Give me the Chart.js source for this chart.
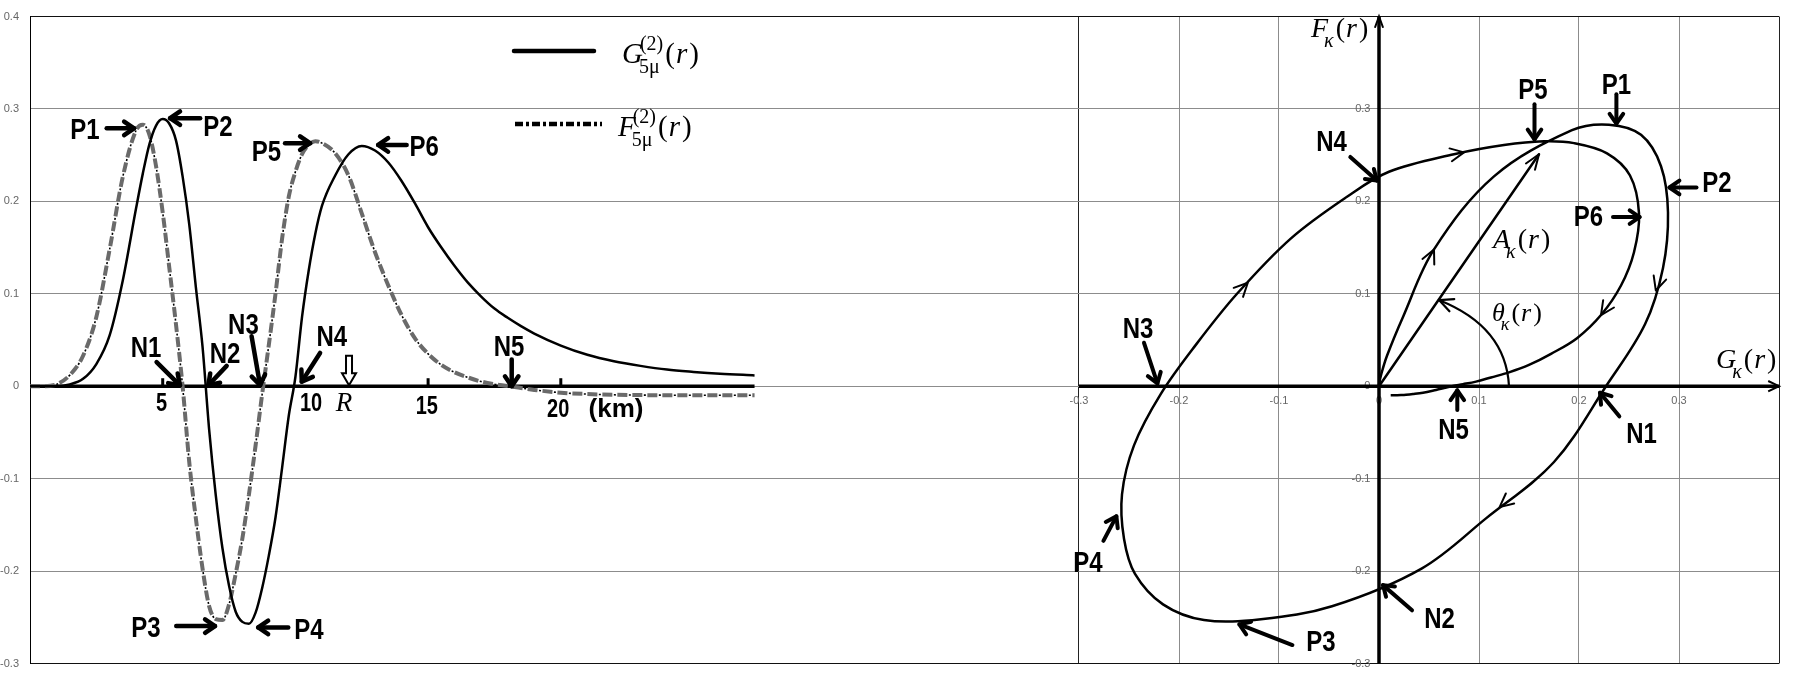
<!DOCTYPE html>
<html>
<head>
<meta charset="utf-8">
<script src="https://cdn.jsdelivr.net/npm/chart.js@4.4.1/dist/chart.umd.min.js"></script>
<style>
  html, body { margin: 0; padding: 0; background: #fff; }
</style>
</head>
<body>
<canvas id="chart" width="1816" height="680"></canvas>
<script>
// radius r (km) and the two components
const rKm = [0, 0.5, 1, 1.5, 2, 2.5, 3, 3.5, 4, 4.25, 4.5, 4.75, 5, 5.25, 5.5, 5.75, 6, 6.25, 6.5, 6.75,
  7, 7.25, 7.5, 7.75, 8, 8.25, 8.5, 8.75, 9, 9.25, 9.5, 9.75, 10, 10.25, 10.5, 10.75, 11, 11.5, 12, 12.5,
  13, 13.5, 14, 14.5, 15, 15.5, 16, 16.5, 17, 17.5, 18, 18.5, 19, 20, 21, 22, 23, 24, 25, 26, 27.3];
const gVals = [0, 0, 0, 0.002, 0.008, 0.024, 0.055, 0.115, 0.193, 0.230, 0.262, 0.282, 0.289, 0.284, 0.266, 0.227, 0.175, 0.107, 0.043, -0.047,
  -0.118, -0.175, -0.216, -0.244, -0.255, -0.257, -0.245, -0.218, -0.183, -0.142, -0.088, -0.032, 0.010, 0.075, 0.125, 0.165, 0.195, 0.228, 0.251, 0.260,
  0.255, 0.242, 0.222, 0.198, 0.172, 0.150, 0.130, 0.112, 0.097, 0.084, 0.074, 0.065, 0.057, 0.044, 0.034, 0.027, 0.022, 0.018, 0.0155, 0.0135, 0.0117];
const fVals = [0, 0, 0.002, 0.012, 0.033, 0.075, 0.148, 0.227, 0.277, 0.283, 0.272, 0.238, 0.188, 0.128, 0.067, 0.000, -0.082, -0.143, -0.197, -0.238,
  -0.252, -0.253, -0.236, -0.203, -0.165, -0.117, -0.064, -0.008, 0.045, 0.100, 0.160, 0.205, 0.232, 0.251, 0.261, 0.265, 0.263, 0.252, 0.228, 0.187,
  0.145, 0.109, 0.077, 0.052, 0.035, 0.023, 0.015, 0.0095, 0.005, 0.0022, 0.0003, -0.002, -0.004, -0.007, -0.0085, -0.0093, -0.0096, -0.0097, -0.0097, -0.0097, -0.0097];

// grid values: shared vertical axis, and the horizontal axis of the G-F plane
const yTicks = [-0.3, -0.2, -0.1, 0, 0.1, 0.2, 0.3, 0.4];
const gTicks = [-0.3, -0.2, -0.1, 0, 0.1, 0.2, 0.3, 0.4];

// hand-lettered km labels on the left panel: text, km, value
const kmLabels = [['5', 4.96, -0.017], ['10', 10.59, -0.017], ['15', 14.95, -0.02], ['20', 19.9, -0.024]];
const kmTickMarks = [5, 15, 20];

// markers: label, label pos, arrow tail, arrow tip (left: km/value, right: G/F)
const leftMarks = [
  ['P1', 2.07, 0.279, 2.89, 0.279, 3.92, 0.279],
  ['P2', 7.08, 0.282, 6.41, 0.290, 5.28, 0.290],
  ['P3', 4.37, -0.260, 5.51, -0.2595, 6.97, -0.2595],
  ['P4', 10.51, -0.2614, 9.73, -0.261, 8.60, -0.261],
  ['P5', 8.91, 0.255, 9.61, 0.263, 10.55, 0.263],
  ['P6', 14.85, 0.261, 14.19, 0.261, 13.12, 0.261],
  ['N1', 4.37, 0.043, 4.77, 0.026, 5.65, 0.001],
  ['N2', 7.35, 0.037, 7.41, 0.022, 6.72, 0.001],
  ['N3', 8.04, 0.068, 8.35, 0.054, 8.67, 0.001],
  ['N4', 11.37, 0.055, 10.93, 0.036, 10.24, 0.005],
  ['N5', 18.05, 0.044, 18.15, 0.029, 18.15, 0.0]
];
const rightMarks = [
  ['P1', 0.2375, 0.328, 0.2374, 0.316, 0.2374, 0.284],
  ['P5', 0.154, 0.322, 0.1555, 0.305, 0.1555, 0.267],
  ['P2', 0.338, 0.222, 0.3175, 0.215, 0.2905, 0.215],
  ['P6', 0.2095, 0.185, 0.234, 0.183, 0.2606, 0.183],
  ['N4', -0.0475, 0.266, -0.0287, 0.248, -0.0022, 0.2225],
  ['N3', -0.241, 0.064, -0.235, 0.047, -0.2216, 0.003],
  ['N5', 0.0745, -0.045, 0.0783, -0.0256, 0.0783, -0.0044],
  ['N1', 0.2625, -0.05, 0.2403, -0.0326, 0.221, -0.0071],
  ['N2', 0.0605, -0.2497, 0.033, -0.2425, 0.004, -0.2152],
  ['P3', -0.058, -0.2752, -0.0866, -0.280, -0.1396, -0.2577],
  ['P4', -0.291, -0.1895, -0.2756, -0.1673, -0.2626, -0.1408]
];
// where the direction arrowheads sit on the G-F curve (in r, km)
const flowAt = [3.0, 5.35, 6.2, 9.3, 10.3, 14.0];
// amplitude vector tip and the angle arc (G, F)
const ampTip = [0.16, 0.251];
const arcPts = [[0.130, 0], [0.127, 0.0644], [0.0603, 0.0931]];

const fmt = v => String(Math.round(v * 10) / 10);
const SERIF = '"Liberation Serif", "DejaVu Serif", serif';
const SANS = '"Liberation Sans", Arial, sans-serif';

function seg(ctx, x1, y1, x2, y2) {
  ctx.beginPath(); ctx.moveTo(x1, y1); ctx.lineTo(x2, y2); ctx.stroke();
}
function head(ctx, x1, y1, x2, y2, len, ang) {
  const a = Math.atan2(y2 - y1, x2 - x1);
  ctx.beginPath();
  ctx.moveTo(x2 - len * Math.cos(a - ang), y2 - len * Math.sin(a - ang));
  ctx.lineTo(x2, y2);
  ctx.lineTo(x2 - len * Math.cos(a + ang), y2 - len * Math.sin(a + ang));
  ctx.stroke();
}
function boldLabel(ctx, t, x, y, size) {
  ctx.save();
  ctx.translate(x, y + size * 0.36);
  ctx.scale(0.8, 1);
  ctx.font = 'bold ' + size + 'px ' + SANS;
  ctx.textAlign = 'center'; ctx.textBaseline = 'alphabetic'; ctx.fillStyle = '#000';
  ctx.fillText(t, 0, 0);
  ctx.restore();
}
function mathText(ctx, x, y, base, sup, sub, size, subItalic) {
  ctx.textAlign = 'left'; ctx.textBaseline = 'alphabetic'; ctx.fillStyle = '#000';
  ctx.font = 'italic ' + size + 'px ' + SERIF;
  ctx.fillText(base, x, y);
  const w = ctx.measureText(base).width;
  const s = Math.round(size * 0.7);
  let ext = 0;
  if (sup) {
    ctx.font = s + 'px ' + SERIF;
    ctx.fillText(sup, x + w - 3, y - size * 0.45);
    ext = Math.max(ext, ctx.measureText(sup).width);
  }
  if (sub) {
    ctx.font = (subItalic ? 'italic ' : '') + s + 'px ' + SERIF;
    ctx.fillText(sub, x + w - 4, y + size * 0.34);
    ext = Math.max(ext, ctx.measureText(sub).width - 1);
  }
  let cx = x + w - 3 + ext + 2;
  ctx.font = size + 'px ' + SERIF;
  ctx.fillText('(', cx, y); cx += ctx.measureText('(').width + 1;
  ctx.font = 'italic ' + size + 'px ' + SERIF;
  ctx.fillText('r', cx, y); cx += ctx.measureText('r').width + 2;
  ctx.font = size + 'px ' + SERIF;
  ctx.fillText(')', cx, y);
}

const annot = {
  id: 'annot',
  beforeDatasetsDraw(chart) {
    const ctx = chart.ctx, X = chart.scales.x, G = chart.scales.x2, Y = chart.scales.y;
    const y0 = Y.getPixelForValue(0);
    ctx.save();
    ctx.strokeStyle = '#000';
    ctx.lineWidth = 3.5;
    // left base line along r
    seg(ctx, X.getPixelForValue(rKm[0]), y0, X.getPixelForValue(rKm[rKm.length - 1]), y0);
    kmTickMarks.forEach(k => { ctx.lineWidth = 3; seg(ctx, X.getPixelForValue(k), y0, X.getPixelForValue(k), y0 - 8); });
    // G-F plane axes
    ctx.lineWidth = 3.5;
    const gx0 = G.getPixelForValue(0);
    const gl = G.getPixelForValue(gTicks[0]), gr = G.getPixelForValue(gTicks[gTicks.length - 1]);
    const yb = Y.getPixelForValue(yTicks[0]), yt = Y.getPixelForValue(yTicks[yTicks.length - 1]);
    seg(ctx, gl, y0, gr, y0);
    seg(ctx, gx0, yb, gx0, yt);
    ctx.lineWidth = 2;
    head(ctx, gr - 20, y0, gr, y0, 12, 0.45);
    head(ctx, gx0, yt + 20, gx0, yt, 12, 0.35);
    ctx.restore();
  },
  afterDatasetsDraw(chart) {
    const ctx = chart.ctx, X = chart.scales.x, G = chart.scales.x2, Y = chart.scales.y;
    ctx.save();
    ctx.strokeStyle = '#000'; ctx.fillStyle = '#000';
    ctx.lineCap = 'round'; ctx.lineJoin = 'round';

    // left panel markers
    leftMarks.forEach(m => {
      const x1 = X.getPixelForValue(m[3]), y1 = Y.getPixelForValue(m[4]);
      const x2 = X.getPixelForValue(m[5]), y2 = Y.getPixelForValue(m[6]);
      ctx.lineWidth = 4.5; seg(ctx, x1, y1, x2, y2); head(ctx, x1, y1, x2, y2, 12, 0.6);
      boldLabel(ctx, m[0], X.getPixelForValue(m[1]), Y.getPixelForValue(m[2]), 30);
    });
    kmLabels.forEach(k => boldLabel(ctx, k[0], X.getPixelForValue(k[1]), Y.getPixelForValue(k[2]), 25));
    ctx.save();
    ctx.font = 'bold 26px ' + SANS; ctx.textAlign = 'center'; ctx.textBaseline = 'middle';
    ctx.fillText('(km)', X.getPixelForValue(22.08), Y.getPixelForValue(-0.0259));
    ctx.restore();

    // R marker: hollow arrow and italic label
    const rx = X.getPixelForValue(12.02), rt = Y.getPixelForValue(0.033), rb = Y.getPixelForValue(0.001);
    ctx.lineWidth = 2; ctx.lineJoin = 'miter'; ctx.fillStyle = '#fff';
    ctx.beginPath();
    ctx.moveTo(rx - 3, rt); ctx.lineTo(rx + 3, rt); ctx.lineTo(rx + 3, rb - 12); ctx.lineTo(rx + 7, rb - 12);
    ctx.lineTo(rx, rb); ctx.lineTo(rx - 7, rb - 12); ctx.lineTo(rx - 3, rb - 12); ctx.closePath();
    ctx.fill(); ctx.stroke();
    ctx.fillStyle = '#000'; ctx.lineJoin = 'round';
    ctx.font = 'italic 27px ' + SERIF; ctx.textAlign = 'center'; ctx.textBaseline = 'middle';
    ctx.fillText('R', X.getPixelForValue(11.83), Y.getPixelForValue(-0.0196));

    // legend
    ctx.lineWidth = 4.5; ctx.lineCap = 'round';
    seg(ctx, 514, 51, 594, 51);
    ctx.lineCap = 'butt'; ctx.setLineDash([8, 3, 3, 3]);
    seg(ctx, 515, 124, 602, 124);
    ctx.setLineDash([]);
    mathText(ctx, 622, 63, 'G', '(2)', '5\u03bc', 29, false);
    mathText(ctx, 618, 136, 'F', '(2)', '5\u03bc', 29, false);

    // direction arrowheads on the G-F curve
    const pts = chart.getDatasetMeta(3).data;
    ctx.lineWidth = 2; ctx.lineCap = 'round';
    flowAt.forEach(r => {
      let i = 0;
      while (i < rKm.length - 2 && rKm[i + 1] < r) i++;
      const t = (r - rKm[i]) / (rKm[i + 1] - rKm[i]);
      const a = pts[i], b = pts[i + 1];
      const px = a.x + (b.x - a.x) * t, py = a.y + (b.y - a.y) * t;
      head(ctx, px - (b.x - a.x), py - (b.y - a.y), px, py, 15, 0.45);
    });

    // amplitude vector and angle arc
    const ox = G.getPixelForValue(0), oy = Y.getPixelForValue(0);
    const tx = G.getPixelForValue(ampTip[0]), ty = Y.getPixelForValue(ampTip[1]);
    ctx.lineWidth = 2.5; seg(ctx, ox, oy, tx, ty); ctx.lineWidth = 2; head(ctx, ox, oy, tx, ty, 16, 0.35);
    const a0 = [G.getPixelForValue(arcPts[0][0]), Y.getPixelForValue(arcPts[0][1])];
    const a1 = [G.getPixelForValue(arcPts[1][0]), Y.getPixelForValue(arcPts[1][1])];
    const a2 = [G.getPixelForValue(arcPts[2][0]), Y.getPixelForValue(arcPts[2][1])];
    ctx.lineWidth = 2.2;
    ctx.beginPath(); ctx.moveTo(a0[0], a0[1]); ctx.quadraticCurveTo(a1[0], a1[1], a2[0], a2[1]); ctx.stroke();
    head(ctx, a1[0], a1[1], a2[0], a2[1], 15, 0.45);

    // right panel markers
    rightMarks.forEach(m => {
      const x1 = G.getPixelForValue(m[3]), y1 = Y.getPixelForValue(m[4]);
      const x2 = G.getPixelForValue(m[5]), y2 = Y.getPixelForValue(m[6]);
      ctx.lineWidth = 4; seg(ctx, x1, y1, x2, y2); head(ctx, x1, y1, x2, y2, 12, 0.6);
      boldLabel(ctx, m[0], G.getPixelForValue(m[1]), Y.getPixelForValue(m[2]), 30);
    });

    // axis and quantity names in the G-F plane
    mathText(ctx, 1311, 37, 'F', null, '\u03ba', 28, true);
    mathText(ctx, 1716, 368, 'G', null, '\u03ba', 28, true);
    mathText(ctx, 1493, 248, 'A', null, '\u03ba', 28, true);
    mathText(ctx, 1492, 321, '\u03b8', null, '\u03ba', 26, true);
    ctx.restore();
  }
};

const tickFont = { family: SANS, size: 11, lineHeight: 1 };
const isEdge = (v, lo, hi) => Math.abs(v - lo) < 1e-6 || Math.abs(v - hi) < 1e-6;

new Chart(document.getElementById('chart'), {
  type: 'line',
  data: {
    datasets: [
      {
        label: 'G',
        data: rKm.map((r, i) => ({ x: r, y: gVals[i] })),
        xAxisID: 'x', yAxisID: 'y',
        borderColor: '#000', borderWidth: 2.5, pointRadius: 0,
        cubicInterpolationMode: 'monotone', order: 1
      },
      {
        label: 'F',
        data: rKm.map((r, i) => ({ x: r, y: fVals[i] })),
        xAxisID: 'x', yAxisID: 'y',
        borderColor: '#6a6a6a', borderWidth: 4, borderDash: [10, 5], pointRadius: 0,
        cubicInterpolationMode: 'monotone', order: 2
      },
      {
        label: 'F dots',
        data: rKm.map((r, i) => ({ x: r, y: fVals[i] })),
        xAxisID: 'x', yAxisID: 'y',
        borderColor: '#000', borderWidth: 1.6, borderDash: [2, 13], borderDashOffset: 3.5, pointRadius: 0,
        cubicInterpolationMode: 'monotone', order: 3
      },
      {
        label: 'G-F',
        data: rKm.map((r, i) => ({ x: gVals[i], y: fVals[i] })),
        xAxisID: 'x2', yAxisID: 'y',
        borderColor: '#000', borderWidth: 2.5, pointRadius: 0,
        tension: 0.35, order: 0
      }
    ]
  },
  options: {
    responsive: false,
    animation: false,
    events: [],
    layout: { padding: { left: 0, right: 37, top: 6, bottom: 15 } },
    plugins: { legend: { display: false }, tooltip: { enabled: false } },
    scales: {
      x: { type: 'linear', min: 0, max: 65.9, display: false },
      x2: {
        type: 'linear', min: -1.349, max: 0.4, position: { y: 0 },
        afterBuildTicks: s => { s.ticks = gTicks.map(v => ({ value: v })); },
        grid: {
          drawTicks: false, lineWidth: 1,
          color: c => isEdge(c.tick.value, -0.3, 0.4) ? '#222' : '#8c8c8c'
        },
        border: { display: false },
        ticks: {
          autoSkip: false, maxRotation: 0, padding: 9, color: '#666', font: tickFont,
          callback: v => (v > 0.35 ? '' : fmt(v))
        }
      },
      y: {
        type: 'linear', min: -0.3, max: 0.4,
        afterBuildTicks: s => { s.ticks = yTicks.map(v => ({ value: v })); },
        afterFit: s => { s.width = 30; },
        grid: {
          drawTicks: false, lineWidth: 1,
          color: c => isEdge(c.tick.value, -0.3, 0.4) ? '#111' : '#8c8c8c'
        },
        border: { display: true, color: '#000', width: 1 },
        ticks: { padding: 11, color: '#666', font: tickFont, callback: v => fmt(v) }
      },
      y2: {
        type: 'linear', min: -0.3, max: 0.4, position: { x2: 0 },
        afterBuildTicks: s => { s.ticks = yTicks.map(v => ({ value: v })); },
        grid: { display: false },
        border: { display: false },
        ticks: { color: '#666', font: tickFont, callback: v => (v > 0.35 ? '' : fmt(v) + '\u2002 ') }
      }
    }
  },
  plugins: [annot]
});
</script>
</body>
</html>
